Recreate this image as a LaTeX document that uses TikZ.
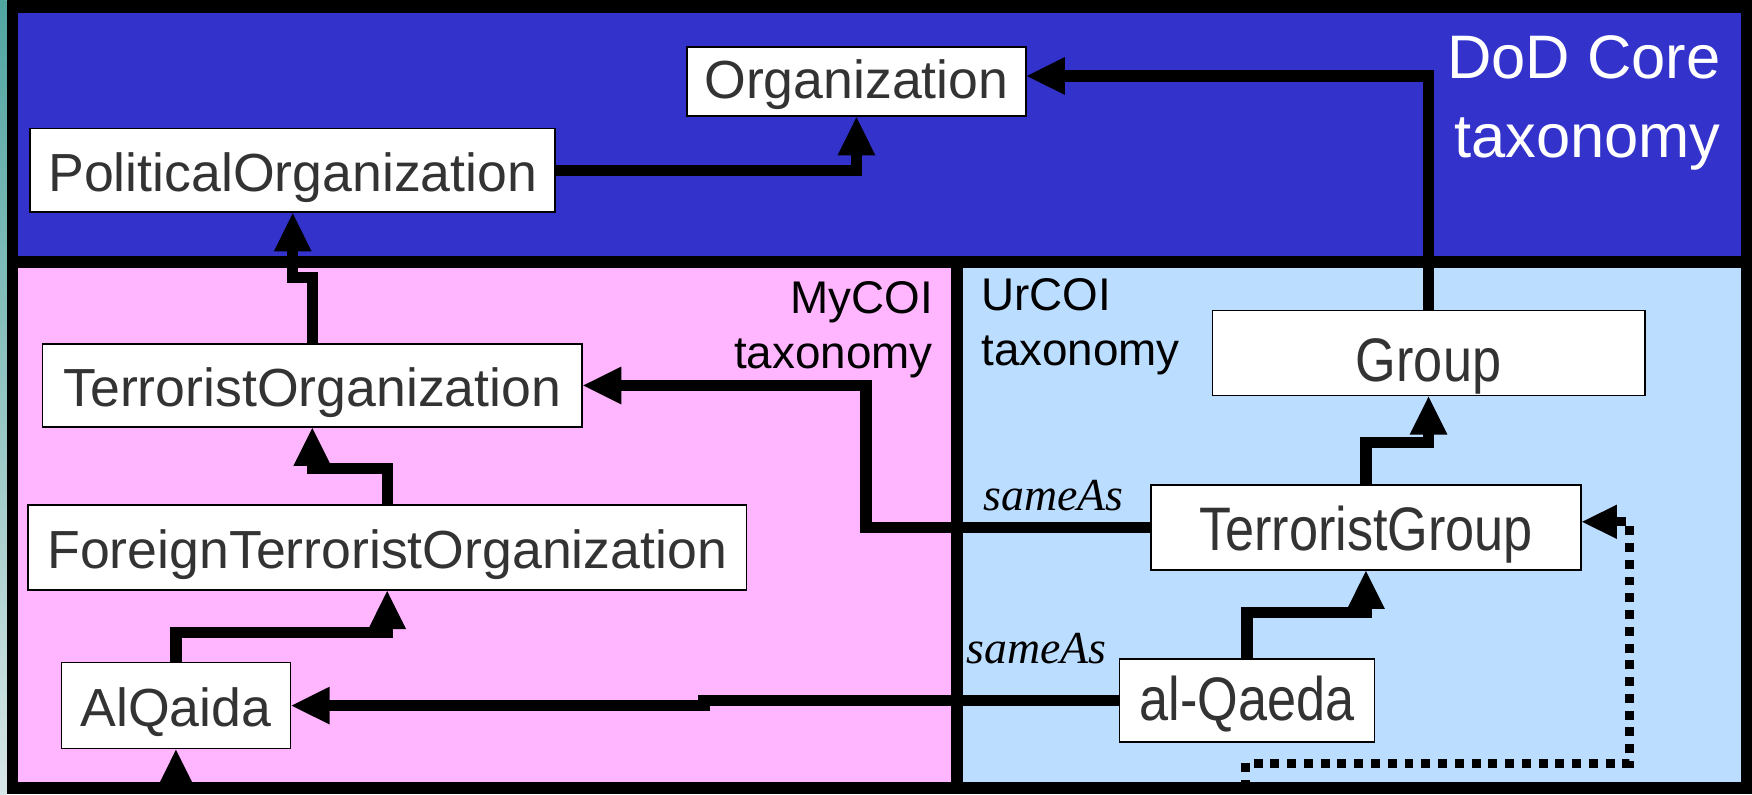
\documentclass[tikz,border=0pt]{standalone}
\usepackage{fontspec}
\setmainfont{Liberation Sans}
\newfontfamily\tallfont[FakeStretch=0.85]{Liberation Sans}
\newfontfamily\serifit{Liberation Serif}
\usetikzlibrary{arrows.meta}
\definecolor{dodblue}{RGB}{51,51,204}
\definecolor{mypink}{RGB}{255,182,255}
\definecolor{urblue}{RGB}{187,221,255}
\definecolor{txt}{RGB}{51,51,51}
\definecolor{tealA}{RGB}{80,165,160}
\definecolor{tealB}{RGB}{215,230,230}
\begin{document}
\begin{tikzpicture}[x=1pt,y=-1pt,
  cls/.style={draw=black, fill=white, line width=1.5pt, text=txt, inner sep=0pt, outer sep=0pt,
    font=\fontsize{48}{50}\selectfont, text height=41pt, text depth=3pt},
  tallcls/.style={cls, font=\tallfont\fontsize{55}{58}\selectfont},
  conn/.style={line width=10pt, -{Triangle[length=35pt,width=31pt]}, line join=miter},
  dotconn/.style={line width=8pt, dash pattern=on 8pt off 7pt, -{Triangle[length=32pt,width=28pt]}},
  lbl/.style={inner sep=0pt, font=\fontsize{41}{49}\selectfont, text=black},
  rel/.style={inner sep=0pt, font=\serifit\itshape\fontsize{41}{45}\selectfont, text=black}]
\useasboundingbox (0,0) rectangle (1568,711);
% background regions
\shade[top color=tealA, bottom color=tealB] (0,0) rectangle (6,711);
\fill[black] (6,0) rectangle (1568,711);
\fill[dodblue] (16,12) rectangle (1558,229);
\fill[mypink] (16,240) rectangle (851,700);
\fill[urblue] (862,240) rectangle (1558,700);
% region labels
\node[lbl, anchor=north east, align=right, text=white, font=\fontsize{55}{70}\selectfont] (dod) at (1540,32) {DoD Core\\taxonomy};
\node[lbl, anchor=north east, align=right] (my) at (835,252) {MyCOI\\taxonomy};
\node[lbl, anchor=north west, align=left] (ur) at (878,249) {UrCOI\\taxonomy};
% classes
\node[cls, minimum width=303pt, minimum height=62pt, text height=34pt] (org) at (766.5,73) {Organization};
\node[cls, minimum width=470pt, minimum height=75pt] (po) at (262,152.5) {PoliticalOrganization};
\node[cls, minimum width=483pt, minimum height=74pt] (to) at (279.5,345) {TerroristOrganization};
\node[cls, minimum width=643pt, minimum height=76pt] (fto) at (346.5,490) {ForeignTerroristOrganization};
\node[cls, minimum width=205pt, minimum height=77pt] (aq) at (157.5,631.5) {AlQaida};
\node[tallcls, minimum width=387pt, minimum height=76pt, text height=53pt] (grp) at (1278.5,316) {Group};
\node[tallcls, minimum width=385pt, minimum height=76pt, text height=45pt] (tg) at (1222.5,472) {TerroristGroup};
\node[tallcls, minimum width=228pt, minimum height=74pt, text height=39pt] (alq) at (1116,627) {al-Qaeda};
% free ends
\coordinate (aqin) at (157.5,706);
\coordinate (dstart) at (1115,706);
% connectors
\draw[conn] (po.east) -| (org.south);
\draw[conn] (grp.north) |- ([yshift=5pt]org.east);
\draw[conn] (to.north) -- ++(0,-60) -| (po.south);
\draw[conn] (fto.north) -- ++(0,-33) -| (to.south);
\draw[conn] (aq.north) -- ++(0,-27) -| (fto.south);
\draw[conn] (aqin) -- (aq.south);
\draw[conn] (tg.north) -- ++(0,-38) -| (grp.south);
\draw[conn] (alq.north) -- ++(0,-42) -| (tg.south);
\draw[conn] (tg.west) -- ++(-255,0) |- (to.east);
\draw[conn] (alq.west) -- ++(-372,0) |- (aq.east);
\draw[dotconn] (dstart) |- (1458,683) |- ([yshift=5pt]tg.east);
% relation labels
\node[rel, anchor=base west] (sa1) at (880,457) {sameAs};
\node[rel, anchor=base west] (sa2) at (865,594) {sameAs};
\end{tikzpicture}
\end{document}
